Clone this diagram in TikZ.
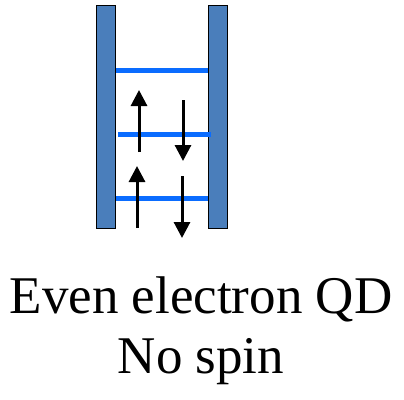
\documentclass[tikz,border=0pt]{standalone}
\usepackage{fontspec}
\setmainfont{Liberation Serif}
\usetikzlibrary{arrows.meta}
\definecolor{wallblue}{HTML}{4A7EBB}
\definecolor{levelblue}{HTML}{0A6CFF}

\begin{document}
\begin{tikzpicture}[x=1pt,y=-1pt,
  wall/.style={draw=black,line width=1pt,fill=wallblue,minimum width=19.5pt,minimum height=223pt,inner sep=0pt},
  level/.style={line width=5pt,levelblue},
  spin/.style={-{Triangle[length=16pt,width=16pt]},line width=3pt},
  caption/.style={font=\fontsize{53}{60}\selectfont,align=center}
]
\useasboundingbox (0,0) rectangle (404,399);
% barrier walls
\node[wall] (leftwall) at (105.8,116.5) {};
\node[wall] (rightwall) at (218,116.5) {};
% energy levels
\draw[level] (115.5,70) -- (208,70);
\draw[level] (118,134) -- (211,134);
\draw[level] (115.5,198) -- (208,198);
% spins
\coordinate (up1s) at (139,152);
\coordinate (up1e) at (139,90);
\coordinate (dn1s) at (183,100);
\coordinate (dn1e) at (183,161);
\coordinate (up2s) at (137,228);
\coordinate (up2e) at (137,166);
\coordinate (dn2s) at (182,176);
\coordinate (dn2e) at (182,238);
\draw[spin] (up1s) -- (up1e);
\draw[spin] (dn1s) -- (dn1e);
\draw[spin] (up2s) -- (up2e);
\draw[spin] (dn2s) -- (dn2e);
\node[caption] (label) at (201,331) {Even electron QD\\No spin};
\end{tikzpicture}
\end{document}
